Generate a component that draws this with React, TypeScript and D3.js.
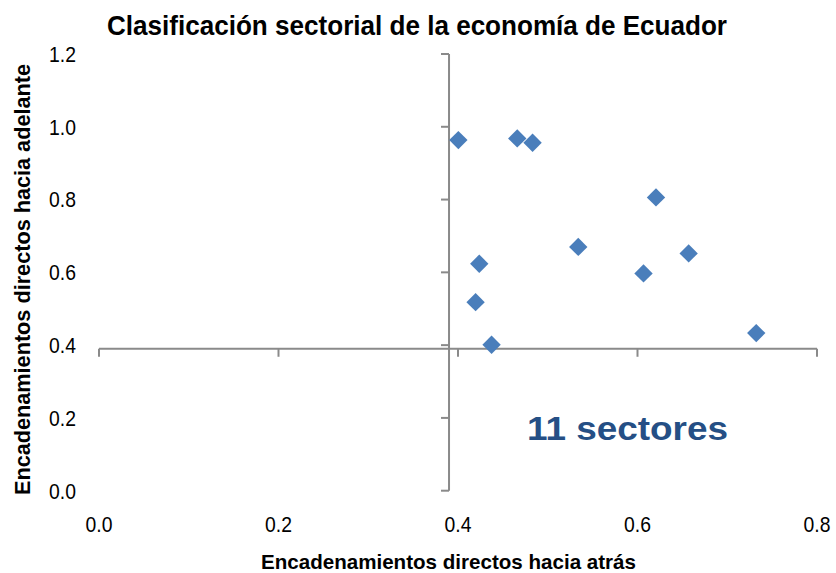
import React from "react";
import * as d3 from "d3";

const backward = [0.4004, 0.466, 0.4831, 0.6206, 0.534, 0.657, 0.6067, 0.4237, 0.4196, 0.4374, 0.7323];
const forward = [0.9635, 0.968, 0.956, 0.806, 0.670, 0.652, 0.597, 0.6236, 0.518, 0.401, 0.433];
const xTicks = [0, 0.2, 0.4, 0.6, 0.8];
const yTicks = [0, 0.2, 0.4, 0.6, 0.8, 1.0, 1.2];
const title = "Clasificación sectorial de la economía de Ecuador";
const xTitle = "Encadenamientos directos hacia atrás";
const yTitle = "Encadenamientos directos hacia adelante";
const note = "11 sectores";
const crossX = 0.39;
const crossY = 0.39;

const FONT = "'Liberation Sans', Arial, sans-serif";

export default function App() {
  const W = 836, H = 573;
  const x = d3.scaleLinear().domain([0, 0.8]).range([99, 817]);
  const y = d3.scaleLinear().domain([0, 1.2]).range([490.7, 54]);
  const axisColor = "#8a8a8a";
  const diamond = d3.symbol().type(d3.symbolDiamond2).size(215)();
  const ax = x(crossX);
  const ay = y(crossY);
  return (
    <svg width={W} height={H} style={{ position: "absolute", left: 0, top: 0, background: "#fff" }}>
      <text x={417} y={34.5} textAnchor="middle" fontFamily={FONT} fontWeight="bold" fontSize={27} fill="#000" textLength={620} lengthAdjust="spacingAndGlyphs">{title}</text>
      {/* x axis */}
      <line x1={x(0)} x2={x(0.8)} y1={ay} y2={ay} stroke={axisColor} strokeWidth={2} />
      {xTicks.map((t) => (
        <g key={"xt" + t}>
          <line x1={x(t)} x2={x(t)} y1={ay} y2={ay + 8} stroke={axisColor} strokeWidth={2} />
          <g transform={`translate(${x(t)},532.3) scale(0.9,1)`}>
            <text x={0} y={0} textAnchor="middle" fontFamily={FONT} fontSize={21.5} fill="#000">{t.toFixed(1)}</text>
          </g>
        </g>
      ))}
      {/* y axis */}
      <line x1={ax} x2={ax} y1={y(0)} y2={y(1.2)} stroke={axisColor} strokeWidth={2} />
      {yTicks.map((t) => (
        <g key={"yt" + t}>
          <line x1={ax - 8} x2={ax} y1={y(t)} y2={y(t)} stroke={axisColor} strokeWidth={2} />
          <g transform={`translate(76,${y(t) + 7.8}) scale(0.9,1)`}>
            <text x={0} y={0} textAnchor="end" fontFamily={FONT} fontSize={21.5} fill="#000">{t.toFixed(1)}</text>
          </g>
        </g>
      ))}
      <text x={448.5} y={568.5} textAnchor="middle" fontFamily={FONT} fontWeight="bold" fontSize={21} fill="#000" textLength={375} lengthAdjust="spacingAndGlyphs">{xTitle}</text>
      <text transform={`translate(30,279.5) rotate(-90)`} textAnchor="middle" fontFamily={FONT} fontWeight="bold" fontSize={21.5} fill="#000" textLength={431} lengthAdjust="spacingAndGlyphs">{yTitle}</text>
      {backward.map((b, i) => (
        <path key={i} d={diamond as string} transform={`translate(${x(b)},${y(forward[i])})`} fill="#4a7ebb" />
      ))}
      <text x={527} y={440} fontFamily={FONT} fontWeight="bold" fontSize={33} fill="#254f85" textLength={201} lengthAdjust="spacingAndGlyphs">{note}</text>
    </svg>
  );
}
